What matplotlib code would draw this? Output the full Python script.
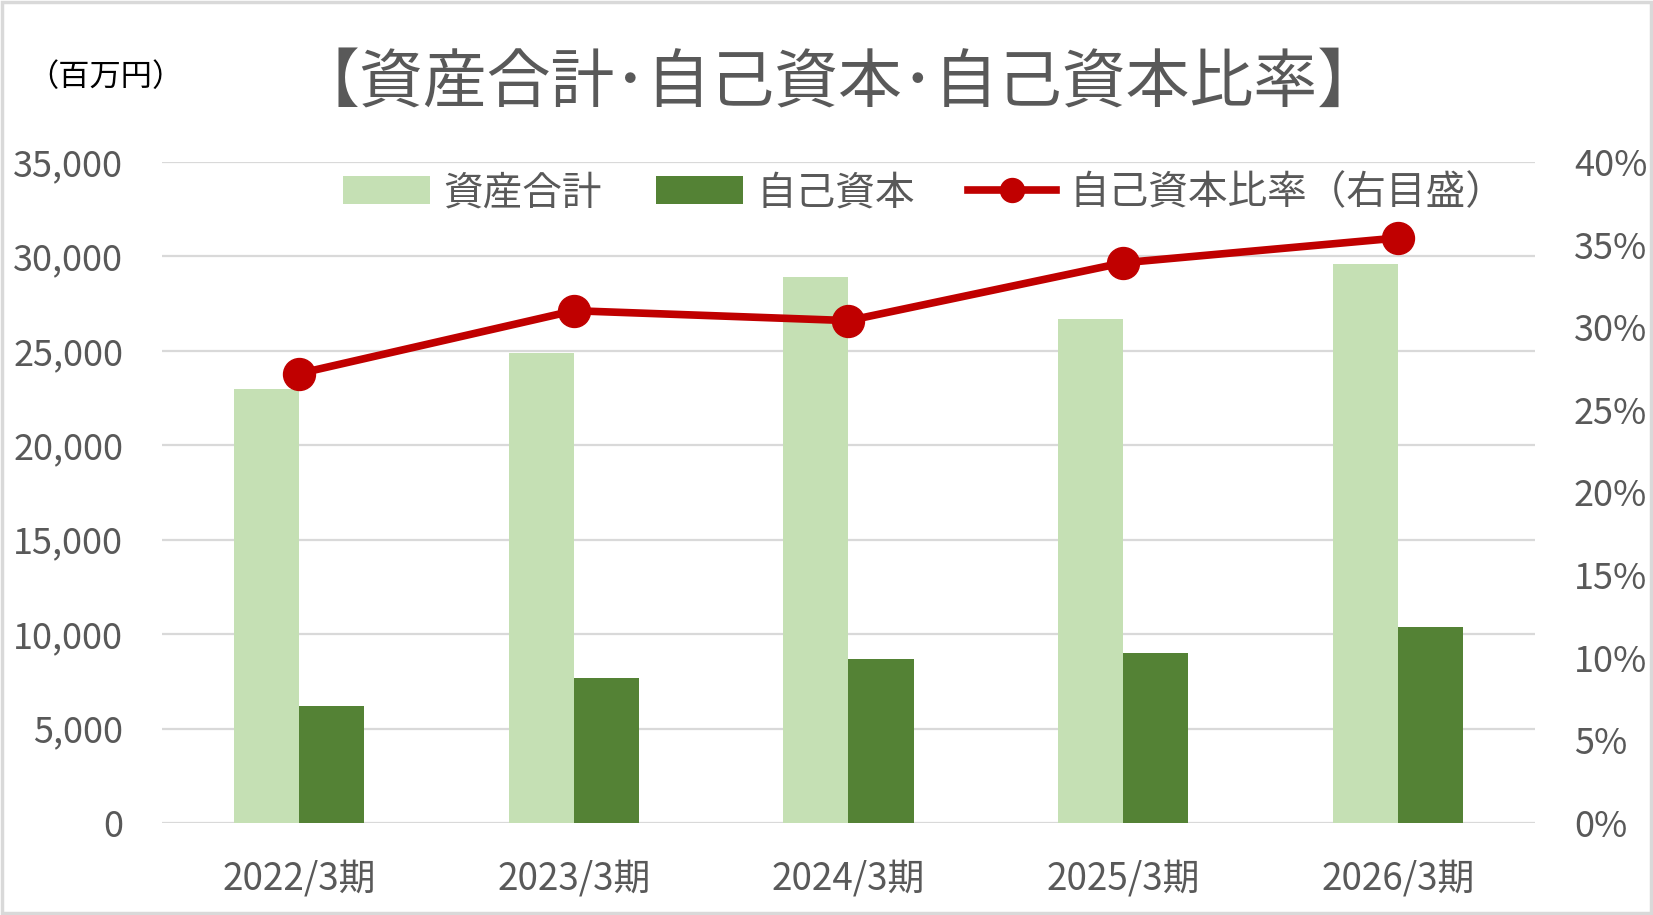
import numpy as np
import matplotlib
matplotlib.use('Agg')
import matplotlib.pyplot as plt
from matplotlib.patches import Rectangle
from matplotlib.ticker import FuncFormatter, MultipleLocator

plt.rcParams['font.family'] = ['Noto Sans CJK JP', 'DejaVu Sans']

# data (百万円)
periods = ['2022/3期', '2023/3期', '2024/3期', '2025/3期', '2026/3期']
total_assets = [23000, 24900, 28900, 26700, 29600]
equity = [6200, 7700, 8700, 9000, 10400]
equity_ratio = [0.272, 0.310, 0.304, 0.339, 0.354]

c_light = '#C5E0B4'
c_dark = '#548235'
c_red = '#C00000'
c_text = '#595959'
c_grid = '#D9D9D9'

fig = plt.figure(figsize=(16.53, 9.15), dpi=100)
ax1 = fig.add_axes([0.098, 0.1005, 0.8306, 0.7225])

x = np.arange(len(periods))
w = 0.237
ax1.bar(x - w / 2, total_assets, width=w, color=c_light, label='資産合計', zorder=2)
ax1.bar(x + w / 2, equity, width=w, color=c_dark, label='自己資本', zorder=2)

ax1.set_xlim(-0.5, len(periods) - 0.5)
ax1.set_ylim(0, 35000)
ax1.yaxis.set_major_locator(MultipleLocator(5000))
ax1.yaxis.set_major_formatter(FuncFormatter(lambda v, p: f'{int(v):,}'))
ax1.set_xticks(x)
ax1.set_xticklabels(periods)
ax1.grid(axis='y', color=c_grid, linewidth=1.6, zorder=0)
ax1.set_axisbelow(True)
for s in ax1.spines.values():
    s.set_visible(False)
ax1.tick_params(axis='y', length=0, labelsize=26, labelcolor=c_text, pad=28)
ax1.tick_params(axis='x', length=0, labelsize=26.5, labelcolor=c_text, pad=26)

ax2 = ax1.twinx()
ax2.plot(x, equity_ratio, color=c_red, linewidth=5.5, marker='o', markersize=23,
         label='自己資本比率（右目盛）', zorder=3)
ax2.set_ylim(0, 0.40)
ax2.yaxis.set_major_locator(MultipleLocator(0.05))
ax2.yaxis.set_major_formatter(FuncFormatter(lambda v, p: f'{v * 100:.0f}%'))
for s in ax2.spines.values():
    s.set_visible(False)
ax2.tick_params(axis='y', length=0, labelsize=26, labelcolor=c_text, pad=28)

h1, l1 = ax1.get_legend_handles_labels()
h2, l2 = ax2.get_legend_handles_labels()
leg = fig.legend(h1 + h2, l1 + l2, loc='center', bbox_to_anchor=(0.559, 0.789),
                 ncol=3, frameon=False, fontsize=28.5, handlelength=2.2,
                 handletextpad=0.35, columnspacing=1.35, markerscale=0.75)
for t in leg.get_texts():
    t.set_color(c_text)

fig.text(0.507, 0.908, '【資産合計･自己資本･自己資本比率】', fontsize=46,
         color=c_text, ha='center', va='center')
fig.text(0.064, 0.916, '（百万円）', fontsize=22.5, color='black',
         ha='center', va='center')

# outer border of the chart
fig.patches.append(Rectangle((0.001, 0.002), 0.998, 0.996, transform=fig.transFigure,
                             fill=False, edgecolor=c_grid, linewidth=2.5))

fig.savefig('out.png', dpi=100)
